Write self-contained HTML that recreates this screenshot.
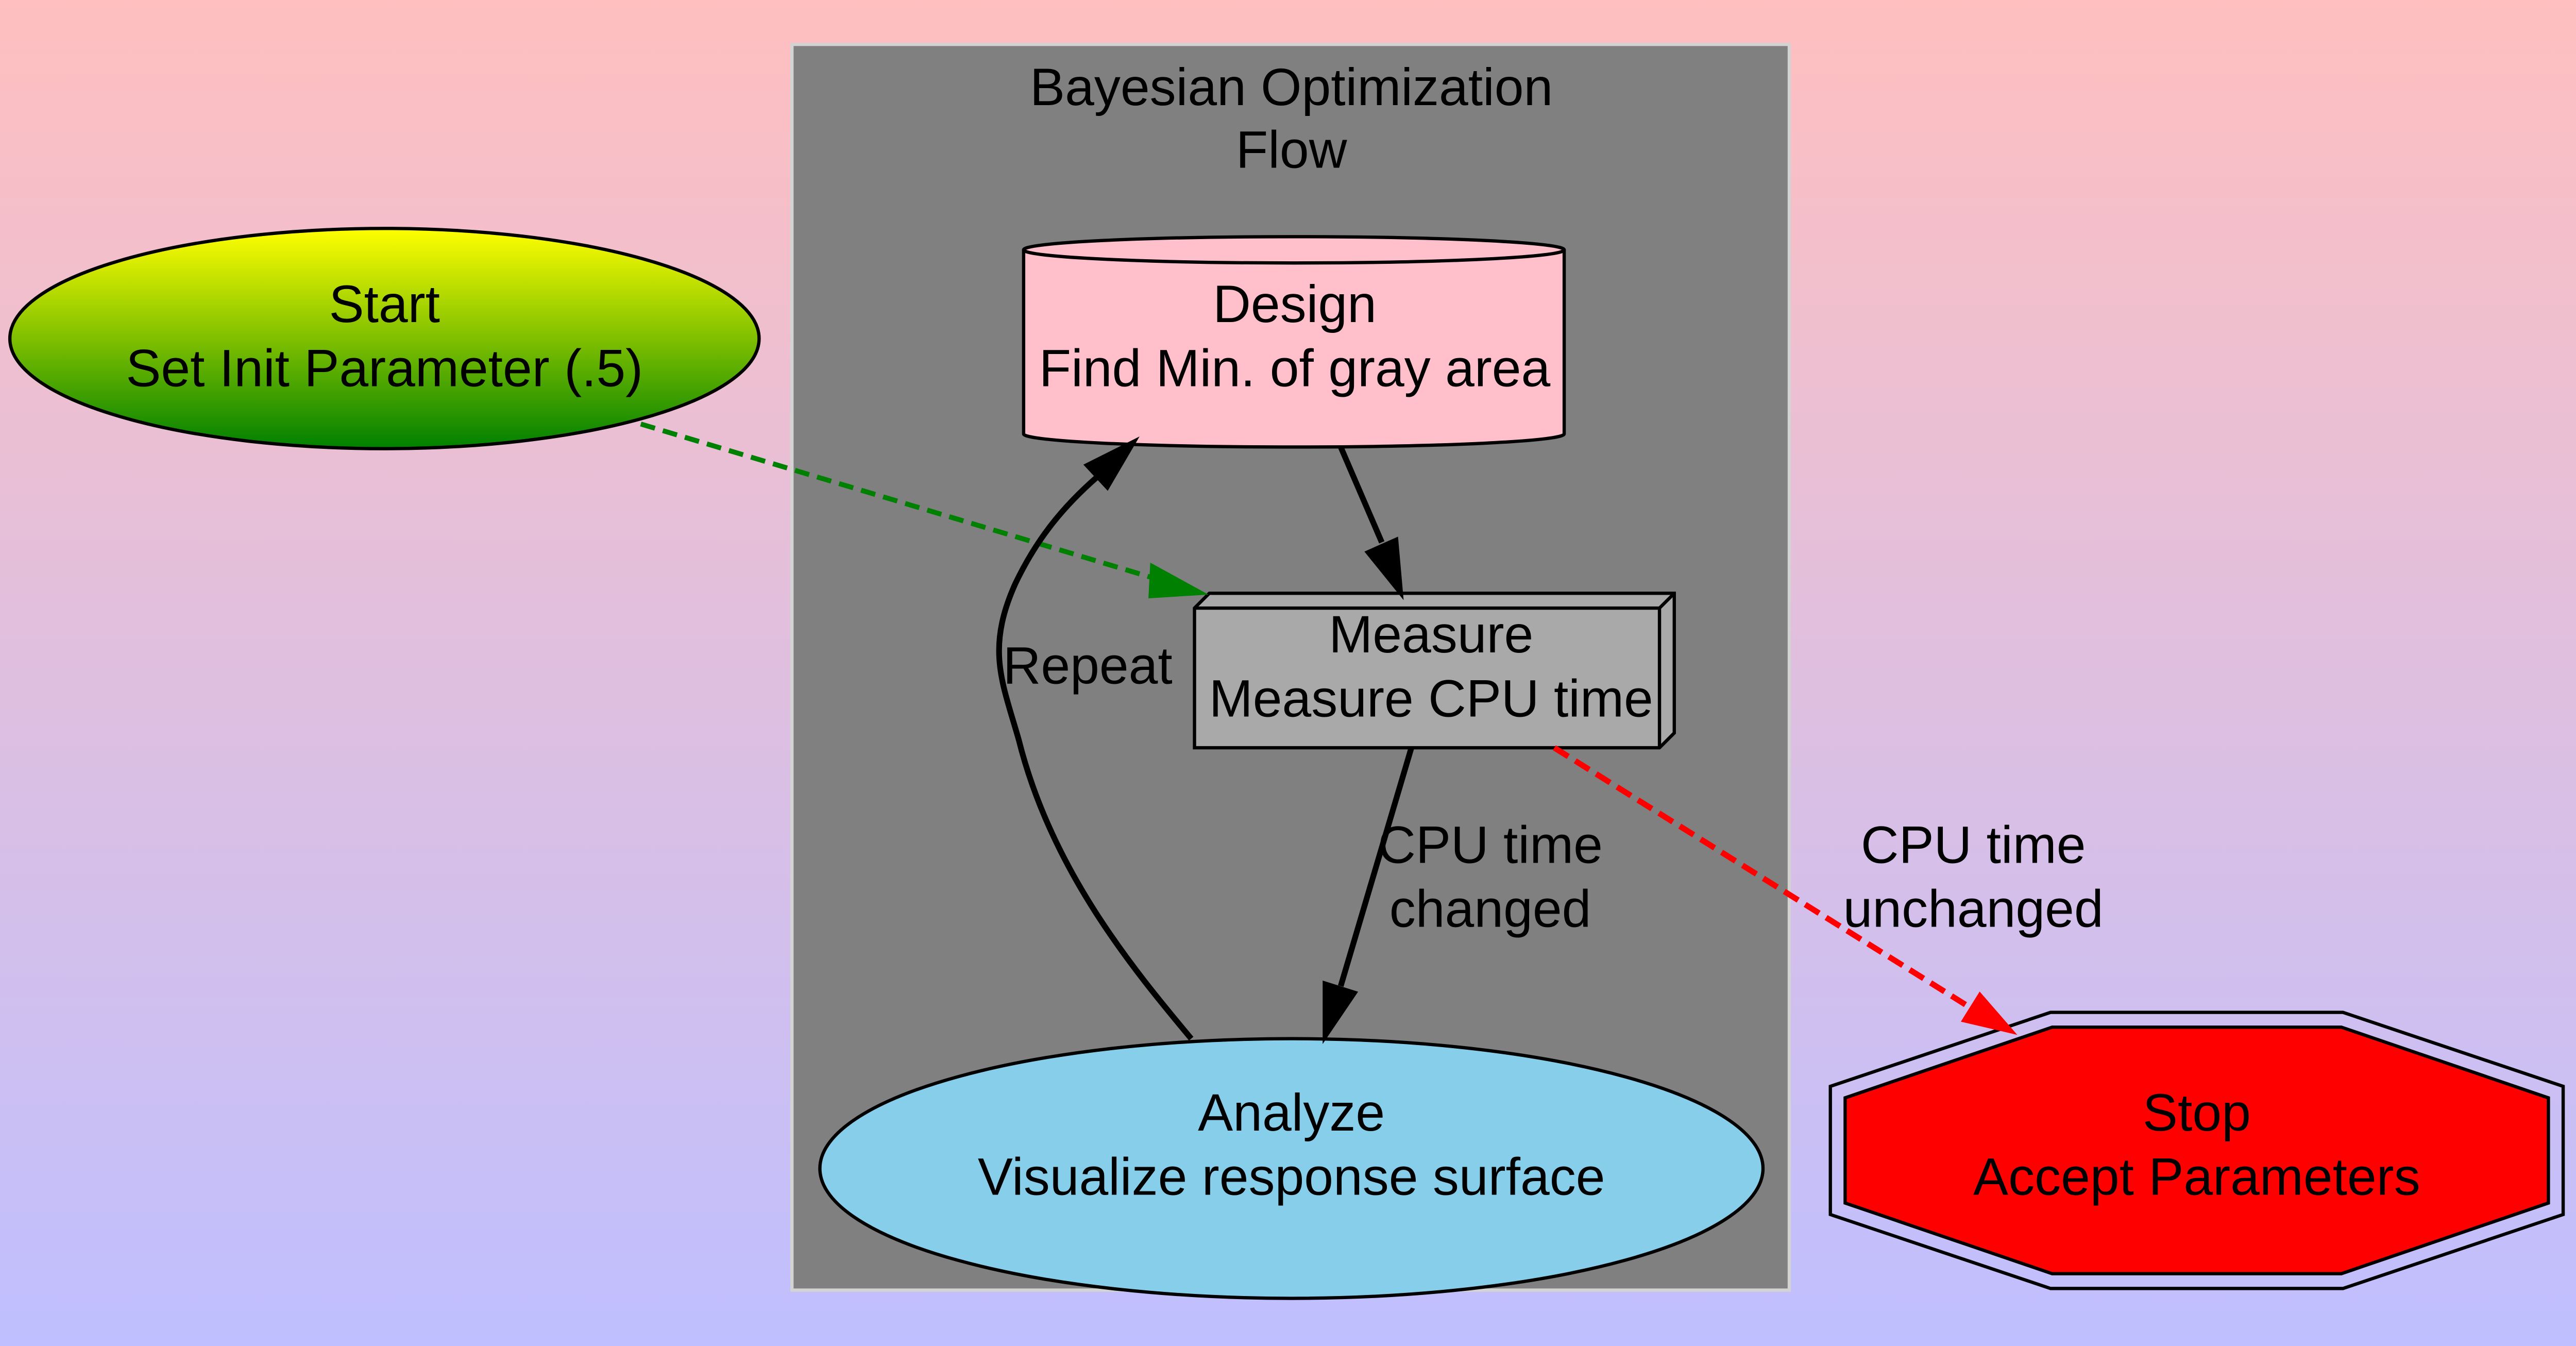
<!DOCTYPE html>
<html><head><meta charset="utf-8"><style>
html,body{margin:0;padding:0;width:5058px;height:2612px;overflow:hidden}
svg{display:block}
text{font-family:"Liberation Sans",sans-serif;font-size:32px;fill:#000;text-anchor:middle}
</style></head><body>
<svg width="5058" height="2612" viewBox="0 0 1586 819" preserveAspectRatio="none" xmlns="http://www.w3.org/2000/svg">
<defs>
<linearGradient id="bg" x1="0" y1="0" x2="0" y2="1"><stop offset="0" stop-color="#ffbfbf"/><stop offset="1" stop-color="#bfbfff"/></linearGradient>
<linearGradient id="st" x1="0" y1="0" x2="0" y2="1"><stop offset="0" stop-color="#ffff00"/><stop offset="1" stop-color="#008000"/></linearGradient>
</defs>
<rect width="1586" height="819" fill="url(#bg)"/>
<rect x="482" y="27" width="607" height="758" fill="#808080" stroke="#d3d3d3" stroke-width="2"/>
<text x="786" y="64">Bayesian Optimization</text>
<text x="786" y="102">Flow</text>

<path d="M623,152 L623,264 A164.5,8 0 0 0 952,264 L952,152 A164.5,8 0 0 0 623,152 Z" fill="#ffc0cb" stroke="#000" stroke-width="2"/>
<path d="M623,152 A164.5,8 0 0 0 952,152" fill="none" stroke="#000" stroke-width="2"/>
<text x="788" y="196">Design</text>
<text x="788" y="235">Find Min. of gray area</text>

<path d="M727,370 L736,361 L1019,361 L1019,446 L1010,455 L727,455 Z" fill="#a9a9a9" stroke="#000" stroke-width="2"/>
<path d="M727,370 L1010,370 L1010,455 M1010,370 L1019,361" fill="none" stroke="#000" stroke-width="2"/>
<text x="871" y="397">Measure</text>
<text x="871" y="436">Measure CPU time</text>

<ellipse cx="786" cy="711" rx="287" ry="79" fill="#87ceeb" stroke="#000" stroke-width="2"/>
<text x="786" y="688">Analyze</text>
<text x="786" y="727">Visualize response surface</text>

<ellipse cx="234" cy="206" rx="228" ry="67" fill="url(#st)" stroke="#000" stroke-width="2"/>
<text x="234" y="196">Start</text>
<text x="234" y="235">Set Init Parameter (.5)</text>

<polygon points="1114,661 1248,616 1426,616 1560,661 1560,739 1426,784 1248,784 1114,739" fill="none" stroke="#000" stroke-width="2"/>
<polygon points="1123,668 1249,625 1425,625 1551,668 1551,732 1425,775 1249,775 1123,732" fill="#ff0000" stroke="#000" stroke-width="2"/>
<text x="1337" y="688">Stop</text>
<text x="1337" y="727">Accept Parameters</text>

<path d="M816,272 L841,330" stroke="#000" stroke-width="3.5" fill="none"/>
<polygon points="832,336 853,362 850,328" fill="#000" stroke="#000" stroke-width="2"/>

<path d="M390,258 L703,352" stroke="#008000" stroke-width="3" stroke-dasharray="9,5" fill="none"/>
<polygon points="701,344 732,361 700,363" fill="#008000" stroke="#008000" stroke-width="2"/>

<path d="M859,455 L816,600" stroke="#000" stroke-width="3.5" fill="none"/>
<polygon points="806,598 806,632 825,604" fill="#000" stroke="#000" stroke-width="2"/>
<text x="907" y="525">CPU time</text>
<text x="907" y="564">changed</text>

<path d="M946,455 L1199,613" stroke="#ff0000" stroke-width="3.5" stroke-dasharray="10,5" fill="none"/>
<polygon points="1195,621 1225,628 1205,605" fill="#ff0000" stroke="#ff0000" stroke-width="2"/>
<text x="1201" y="525">CPU time</text>
<text x="1201" y="564">unchanged</text>

<path d="M725,632 C690,590 640,530 620,450 C610,415 600,395 618,355 C630,330 645,310 668,290" stroke="#000" stroke-width="3.5" fill="none"/>
<polygon points="661,283 691,268 674,297" fill="#000" stroke="#000" stroke-width="2"/>
<text x="662" y="416">Repeat</text>
</svg>
</body></html>
